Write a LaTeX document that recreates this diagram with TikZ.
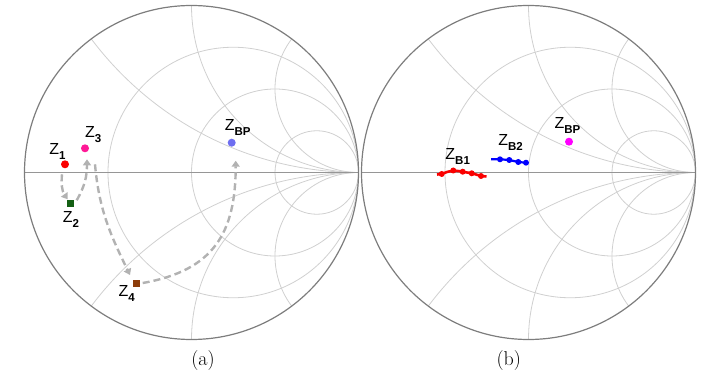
\documentclass[tikz,border=0pt]{standalone}
\usepackage{fontspec}
\usepackage{tikz}
\usepackage{xcolor}
\usetikzlibrary{arrows.meta, positioning}
\setsansfont{Liberation Sans}
\definecolor{rimgray}{RGB}{125,125,125}
\definecolor{axisgray}{RGB}{150,150,150}
\definecolor{gridgray}{RGB}{208,208,208}
\definecolor{flowgray}{RGB}{178,178,178}
\definecolor{zred}{RGB}{250,0,0}
\definecolor{zpink}{RGB}{255,25,150}
\definecolor{zgreen}{RGB}{20,95,20}
\definecolor{zbrown}{RGB}{140,60,10}
\definecolor{zviolet}{RGB}{110,110,240}
\definecolor{zmagenta}{RGB}{255,0,255}
\definecolor{zblue}{RGB}{0,0,255}
\newcommand{\zlab}[1]{Z\raisebox{-5pt}{\fontsize{11.5}{12}\selectfont\bfseries #1}}

\begin{document}
\begin{tikzpicture}[x=1pt,y=-1pt,
          grid/.style={draw=gridgray,line width=0.8pt},
          rim/.style={draw=rimgray,line width=1.2pt},
          axis/.style={draw=axisgray,line width=1.5pt},
          dot/.style={circle,inner sep=0pt,minimum size=8pt},
          sqr/.style={rectangle,inner sep=0pt,minimum size=7pt},
          lbl/.style={inner sep=0pt,font=\sffamily\fontsize{16}{18}\selectfont},
          flow/.style={draw=flowgray,line width=2.4pt,dash pattern=on 7pt off 4pt,
                       -{Triangle[length=6pt,width=8pt]}},
          sublbl/.style={font=\fontsize{20}{22}\selectfont}]
        \useasboundingbox (0,0) rectangle (710,374);
        % two Smith charts
        \foreach \cx in {191.5,528.5}{
          \begin{scope}[shift={(\cx,172.5)},x=167pt,y=167pt]
            \begin{scope}
              \clip (0,0) circle (1);
              \foreach \r in {0.3333,1,3}
                \draw[grid] ({\r/(1+\r)},0) circle ({1/(1+\r)});
              \foreach \xx in {0.5,1,2}{
                \draw[grid] (1,{1/\xx}) circle ({1/\xx});
                \draw[grid] (1,{-1/\xx}) circle ({1/\xx});
              }
            \end{scope}
            \draw[axis] (-1,0) -- (1,0);
            \draw[rim] (0,0) circle (1);
          \end{scope}
        }

        % (a) matching path
        \node[dot,fill=zred](z1) at (65,164.3){};
        \node[sqr,fill=zgreen](z2) at (70.7,203.3){};
        \node[dot,fill=zpink](z3) at (85,148.3){};
        \node[sqr,fill=zbrown](z4) at (136.7,284){};
        \node[dot,fill=zviolet](zbpa) at (231.7,142.7){};
        \node[lbl](l1) at (57.5,151.5){\zlab{1}};
        \node[lbl](l2) at (71,219){\zlab{2}};
        \node[lbl](l3) at (93.3,135){\zlab{3}};
        \node[lbl](l4) at (126.7,293.3){\zlab{4}};
        \node[lbl](lbpa) at (237.7,127.5){\zlab{BP}};
        \draw[flow]([shift={(-3pt,-10pt)}]z1.center)
          to[out=-95,in=125]([shift={(-3pt,4pt)}]z2.center);
        \draw[flow]([shift={(6pt,3pt)}]z2.center)
          to[out=60,in=-90]([shift={(2pt,-11pt)}]z3.center);
        \draw[flow]([shift={(10pt,-16pt)}]z3.center)
          to[out=-85,in=116]([shift={(-6.7pt,9pt)}]z4.center);
        \draw[flow]([shift={(6pt,1pt)}]z4.center)
          to[out=10,in=-90,looseness=1.2]([shift={(4pt,-18pt)}]zbpa.center);
        \node[sublbl](capa) at (203,361){(a)};

        % (b) measured impedances
        \node[dot,fill=zmagenta](zbpb) at (569,141.7){};
        \node[lbl](lbpb) at (567.5,125){\zlab{BP}};
        \node[lbl](lb2) at (510.5,142.5){\zlab{B2}};
        \node[lbl](lb1) at (457.7,156){\zlab{B1}};
        \draw[zred,line width=2.6pt,line join=round]
          plot coordinates {(437,174.5) (441.7,174) (447,172) (453.3,170.5) (458,171)
            (462.7,171.7) (467,172.5) (471.7,173.3) (476,174.5) (481,176) (486.5,176.5)};
        \foreach \px/\py in {441.7/174,453.3/170.5,462.7/171.7,471.7/173.3,481/176}
          \fill[zred] (\px,\py) circle (3pt);
        \draw[zblue,line width=2.2pt,line join=round]
          plot coordinates {(491,159.3) (500,159.3) (509.3,160) (518.3,162) (526,162.7) (528,163)};
        \foreach \px/\py in {500/159.3,509.3/160,518.3/162,526/162.7}
          \fill[zblue] (\px,\py) circle (3pt);
        \node[sublbl](capb) at (508.8,361){(b)};
      \end{tikzpicture}
\end{document}
